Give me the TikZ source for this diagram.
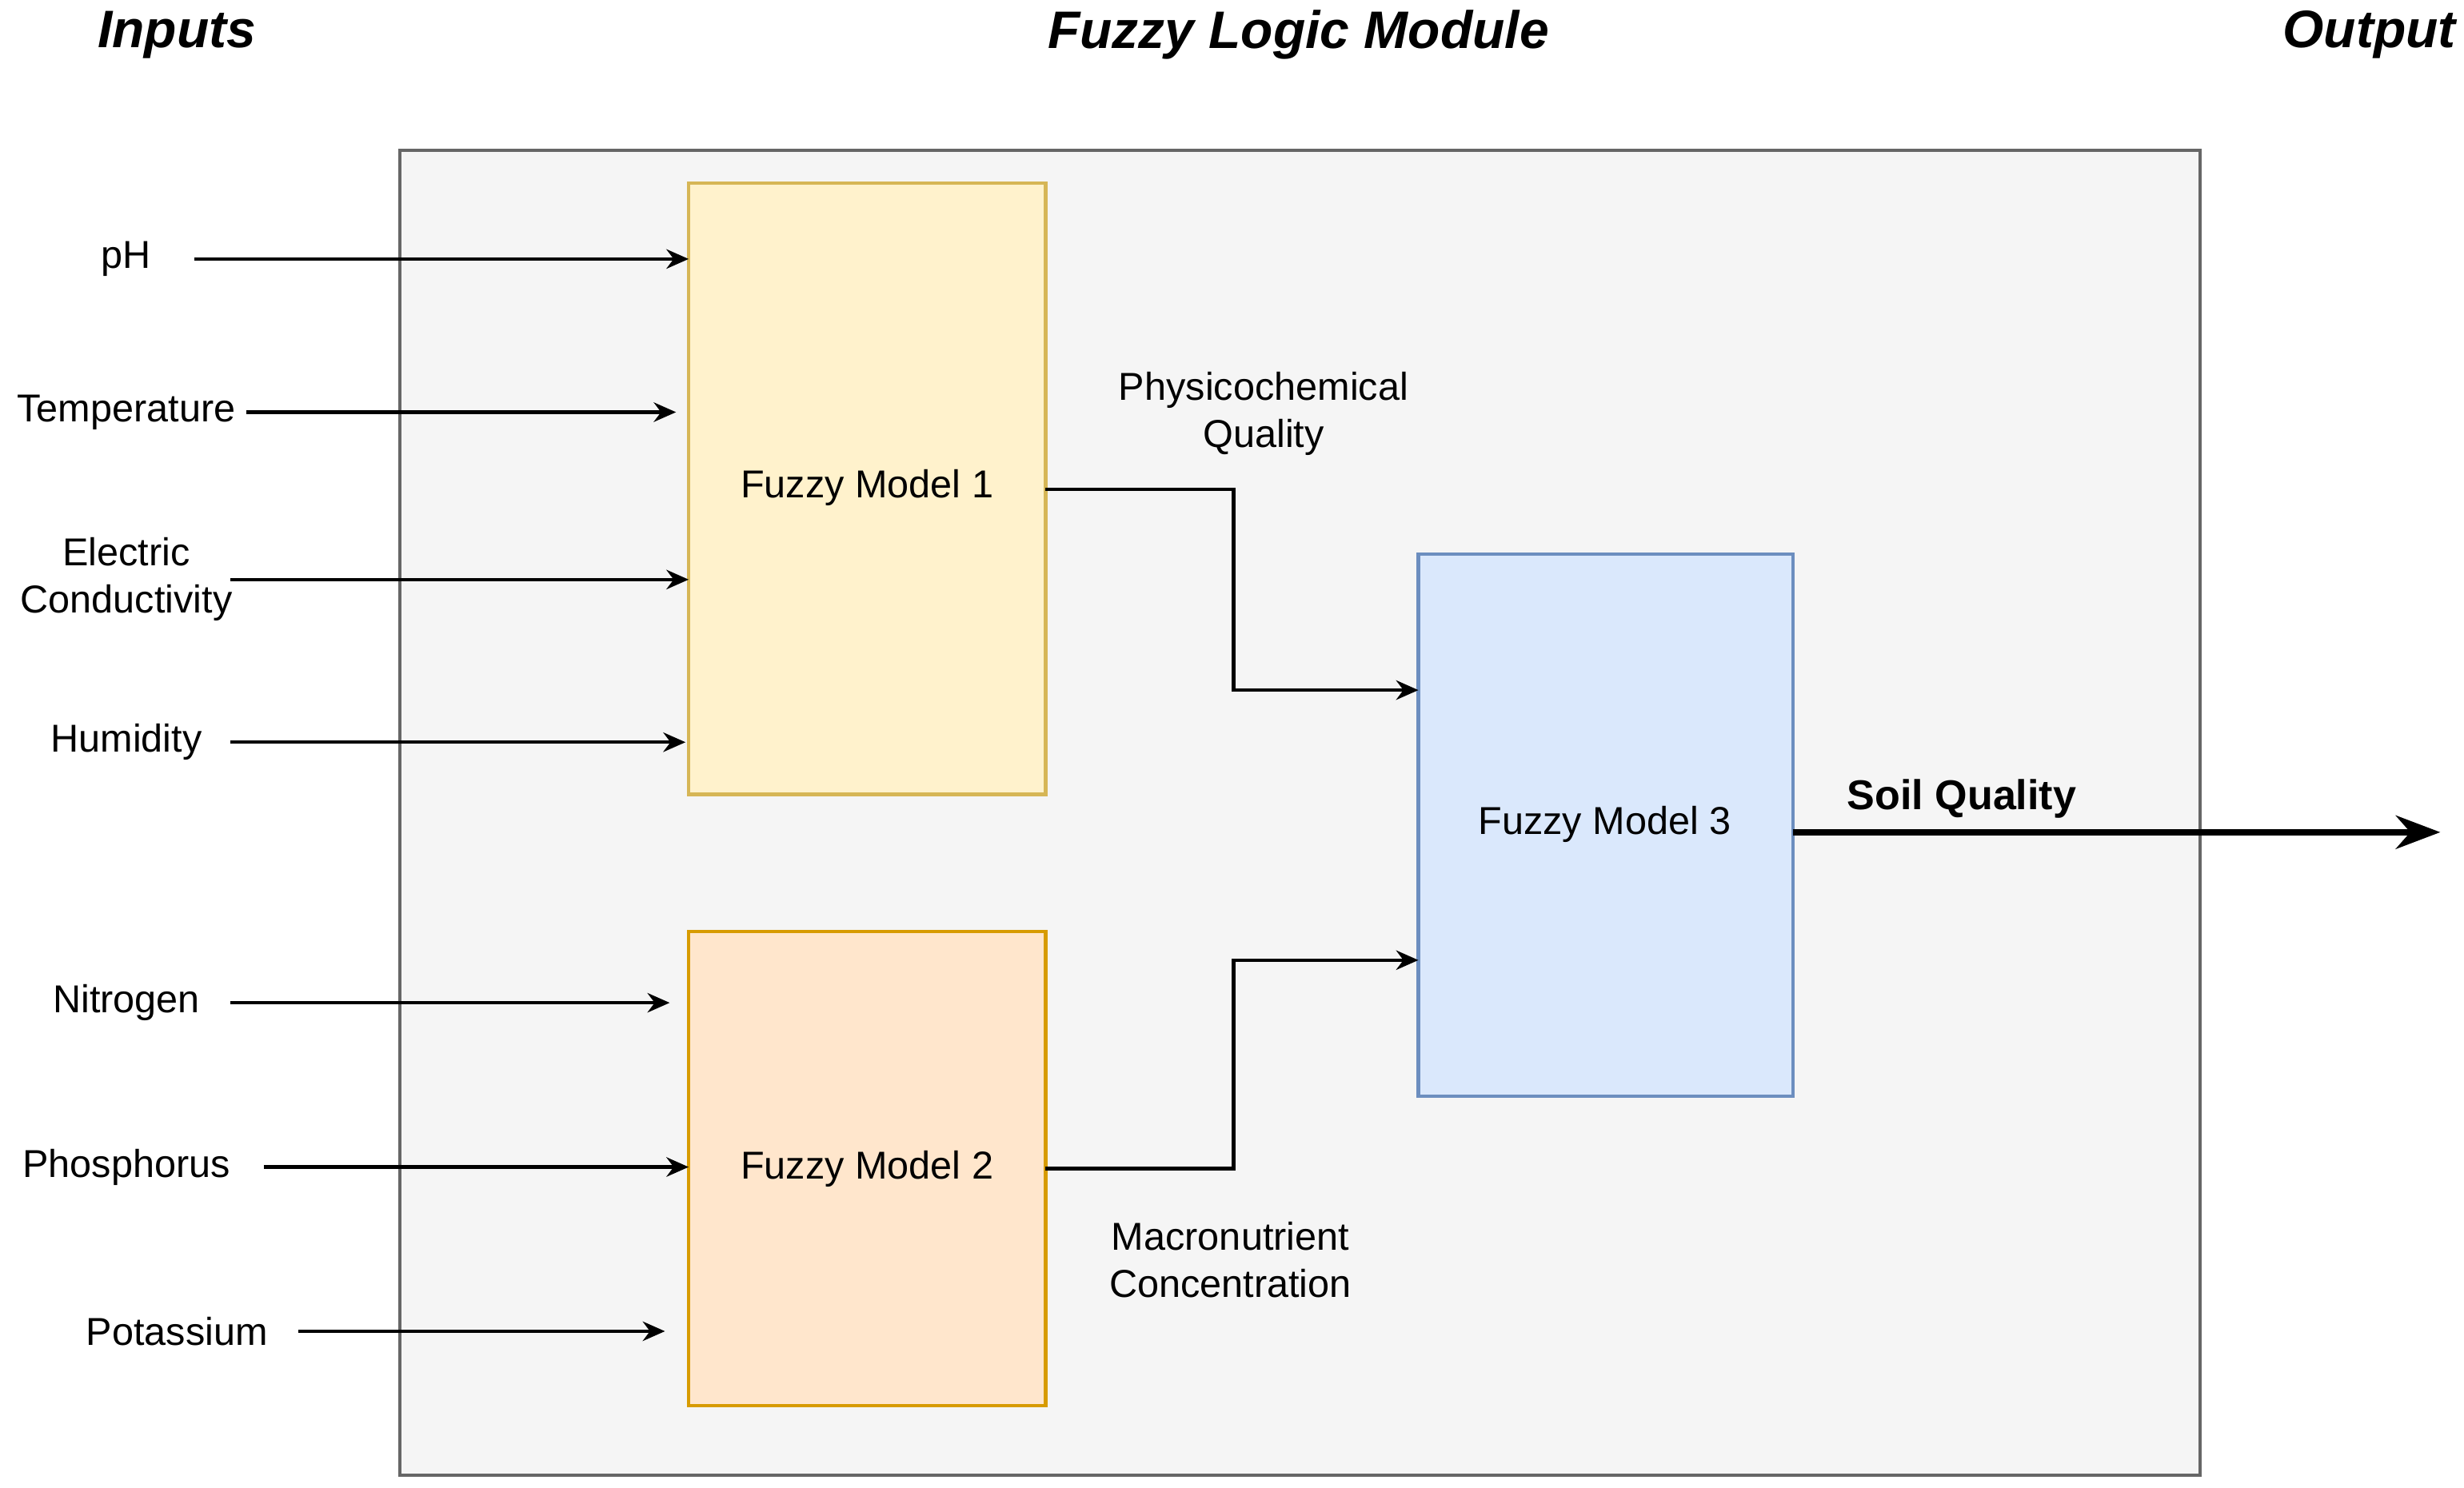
\documentclass[tikz,border=0pt]{standalone}
\usepackage{fontspec}
\setmainfont{Liberation Sans}
\usetikzlibrary{arrows.meta}
\definecolor{modbg}{HTML}{F5F5F5}
\definecolor{modline}{HTML}{666666}
\definecolor{yfill}{HTML}{FFF2CC}
\definecolor{yline}{HTML}{D6B656}
\definecolor{ofill}{HTML}{FFE6CC}
\definecolor{oline}{HTML}{D79B00}
\definecolor{bfill}{HTML}{DAE8FC}
\definecolor{bline}{HTML}{6C8EBF}
\begin{document}
\begin{tikzpicture}[x=0.01cm,y=-0.01cm,
  txt/.style={font=\fontsize{7}{8.5}\selectfont,align=center},
  head/.style={font=\fontsize{9.5}{11}\selectfont\bfseries\itshape},
  arr/.style={semithick,-{Stealth[length=4pt,width=3.5pt]}}]
  \useasboundingbox (0,0) rectangle (1560,942);
  \draw[modline,fill=modbg,semithick](253,95)rectangle(1393,934);%Module
  \node[head](hin)at(112,22){Inputs};
  \node[head](hmod)at(822,22){Fuzzy Logic Module};
  \node[head](hout)at(1500,22){Output};
  \draw[yline,fill=yfill,semithick](436,116)rectangle(662,503);
  \draw[oline,fill=ofill,semithick](436,590)rectangle(662,890);
  \draw[bline,fill=bfill,semithick](898,351)rectangle(1135,694);
  \node[txt](fm1)at(549,309){Fuzzy Model 1};
  \node[txt](fm2)at(549,740){Fuzzy Model 2};
  \node[txt](fm3)at(1016,522){Fuzzy Model 3};
  % inputs
  \foreach \n/\t/\x/\y/\s/\e in{ph/pH/80/164/123/436,
      tmp/Temperature/80/261/156/428,
      ec/{Electric\\Conductivity}/80/367/146/436,
      hum/Humidity/80/470/146/434,
      nit/Nitrogen/80/635/146/424,
      pho/Phosphorus/80/739/167/436,
      pot/Potassium/112/843/189/421}{
    \node[txt](\n)at(\x,\y){\t};
    \coordinate(\n s)at(\s,\y);
    \coordinate(\n e)at(\e,\y);
    \draw[arr](\n s)--(\n e);
  }
  \coordinate(fm1o)at(662,310);
  \coordinate(fm2o)at(662,740);
  \coordinate(fm3a)at(898,437);
  \coordinate(fm3b)at(898,608);
  \coordinate(fm3o)at(1135,527);
  \coordinate(outp)at(1545,527);
  \draw[arr](fm1o)-|(781,437)--(fm3a);
  \draw[arr](fm2o)-|(781,608)--(fm3b);
  \draw[very thick,-{Stealth[length=8pt,width=6pt]}](fm3o)--(outp);
  \node[txt](pq)at(800,262){Physicochemical\\Quality};
  \node[txt](mc)at(779,798){Macronutrient\\Concentration};
  \node[txt,font=\fontsize{7.5}{9}\selectfont\bfseries](sq)at(1242,506){Soil Quality};
\end{tikzpicture}
\end{document}
